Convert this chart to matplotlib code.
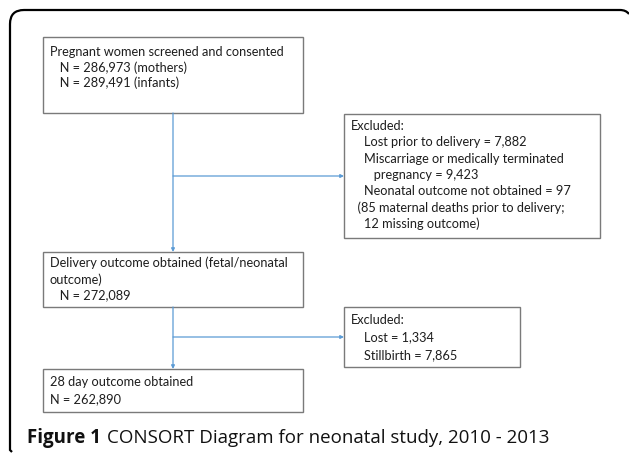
import matplotlib.pyplot as plt
from matplotlib.patches import Rectangle, FancyArrowPatch
from matplotlib.path import Path
from matplotlib.patches import PathPatch

# box texts (one entry per line, leading spaces give the indent)
screened_lines = ["Pregnant women screened and consented",
                  "   N = 286,973 (mothers)",
                  "   N = 289,491 (infants)"]
excluded1_lines = ["Excluded:",
                   "    Lost prior to delivery = 7,882",
                   "    Miscarriage or medically terminated",
                   "       pregnancy = 9,423",
                   "    Neonatal outcome not obtained = 97",
                   "  (85 maternal deaths prior to delivery;",
                   "    12 missing outcome)"]
delivery_lines = ["Delivery outcome obtained (fetal/neonatal",
                  "outcome)",
                  "   N = 272,089"]
excluded2_lines = ["Excluded:",
                   "    Lost = 1,334",
                   "    Stillbirth = 7,865"]
day28_lines = ["28 day outcome obtained",
               "N = 262,890"]
caption_bold = "Figure 1"
caption_text = "CONSORT Diagram for neonatal study, 2010 - 2013"

BOX_EDGE = "#7a7a7a"
LINE_BLUE = "#5b9bd5"
FONT = "Lato"


def draw_box(ax, x0, y0, x1, y1, lines, top, step=16.3, left=None):
  ax.add_patch(Rectangle((x0, y0), x1 - x0, y1 - y0, fill=False,
                         edgecolor=BOX_EDGE, linewidth=1.0))
  tx = x0 + 7 if left is None else left
  for i, line in enumerate(lines):
    ax.text(tx, top + i * step, line, ha="left", va="center",
            fontsize=9.2, family=FONT, color="#1e1e1e")


def arrow(ax, p0, p1):
  ax.add_patch(FancyArrowPatch(p0, p1, arrowstyle="-|>", mutation_scale=5,
                               color=LINE_BLUE, linewidth=0.9,
                               shrinkA=0, shrinkB=0))


def main():
  fig = plt.figure(figsize=(6.29, 4.54), dpi=100)
  ax = fig.add_axes([0, 0, 1, 1])
  ax.set_xlim(0, 629)
  ax.set_ylim(454, 0)
  ax.axis("off")

  # outer frame: left side and top, rounded top-left corner
  verts = [(12, 452), (10, 450), (10, 24), (10, 10), (24, 10),
           (620, 10), (626, 10), (629, 14)]
  codes = [Path.MOVETO, Path.LINETO, Path.LINETO, Path.CURVE3, Path.CURVE3,
           Path.LINETO, Path.CURVE3, Path.CURVE3]
  ax.add_patch(PathPatch(Path(verts, codes), fill=False, edgecolor="black",
                         linewidth=1.6))

  draw_box(ax, 43, 37, 303, 113, screened_lines, 52, step=15.5)
  draw_box(ax, 344, 114, 600, 238, excluded1_lines, 126)
  draw_box(ax, 43, 252, 303, 307, delivery_lines, 263)
  draw_box(ax, 344, 307, 520, 367, excluded2_lines, 320, step=17.5)
  draw_box(ax, 43, 369, 303, 412, day28_lines, 382, step=17)

  # connectors
  arrow(ax, (173, 113), (173, 252))
  arrow(ax, (173, 176), (344, 176))
  arrow(ax, (173, 307), (173, 369))
  arrow(ax, (173, 337), (344, 337))

  # caption
  t = ax.text(27, 438, caption_bold, ha="left", va="center", fontsize=13.5,
              family="Open Sans", fontweight="bold", color="#111111")
  fig.canvas.draw()
  bb = t.get_window_extent().transformed(ax.transData.inverted())
  ax.text(bb.x1 + 6, 438, caption_text, ha="left", va="center", fontsize=13.5,
          family="Open Sans", color="#111111")

  fig.savefig("out.png", dpi=100)


if __name__ == "__main__":
  main()
